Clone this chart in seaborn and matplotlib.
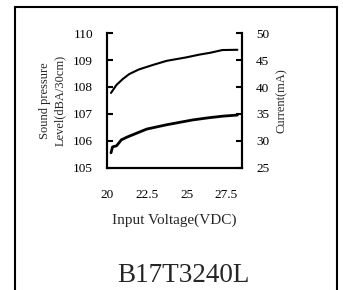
import matplotlib
matplotlib.use("Agg")
import matplotlib.pyplot as plt
import seaborn as sns
from matplotlib.patches import Rectangle

# Data
volt_spl = [20.25, 20.6, 21.0, 21.4, 22.0, 22.9, 23.75, 25.0, 25.8, 26.5, 27.25, 28.2]
spl = [107.78, 108.08, 108.3, 108.48, 108.65, 108.82, 108.97, 109.1, 109.2, 109.27, 109.37, 109.38]
volt_cur = [20.25, 20.35, 20.6, 20.9, 21.25, 22.5, 23.75, 25.4, 26.4, 27.3, 28.2]
current = [27.8, 28.9, 29.1, 30.2, 30.7, 32.2, 33.0, 33.9, 34.3, 34.6, 34.8]
x_ticks = [20, 22.5, 25, 27.5]
x_labels = ['20', '22.5', '25', '27.5']
spl_ticks = [105, 106, 107, 108, 109, 110]
cur_ticks = [25, 30, 35, 40, 45, 50]

sns.set_style("white")
plt.rcParams['font.family'] = ['Liberation Serif', 'DejaVu Serif']

fig = plt.figure(figsize=(3.43, 2.90), dpi=100)
ax = fig.add_axes([0.312, 0.421, 0.394, 0.465])
ax2 = ax.twinx()

sns.lineplot(x=volt_spl, y=spl, ax=ax, color='black', linewidth=1.5, estimator=None)
sns.lineplot(x=volt_cur, y=current, ax=ax2, color='black', linewidth=2, estimator=None)

ax.set_xlim(20, 28.5)
ax.set_ylim(105, 110)
ax2.set_ylim(25, 50)
ax.set_xticks(x_ticks)
ax.set_xticklabels(x_labels)
ax.set_yticks(spl_ticks)
ax2.set_yticks(cur_ticks)

for a in (ax, ax2):
    a.spines['top'].set_visible(False)
    for s in ('left', 'right', 'bottom'):
        a.spines[s].set_linewidth(1.5)
        a.spines[s].set_color('black')
    a.tick_params(direction='in', length=4, width=1.5, labelsize=9.5, colors='black', pad=10)
ax.tick_params(axis='x', pad=15)

ax.set_xlabel('Input Voltage(VDC)', fontsize=11, labelpad=9)
ax.set_ylabel('Sound pressure\nLevel(dBA/30cm)', fontsize=9, labelpad=5, linespacing=1.3)
ax2.set_ylabel('Current(mA)', fontsize=9, labelpad=5)

fig.text(0.535, 0.05, 'B17T3240L', fontsize=19.5, ha='center', va='center')
fig.patches.append(Rectangle((0.044, -0.05), 0.938, 1.026, transform=fig.transFigure,
                             fill=False, edgecolor='black', linewidth=1.5))

fig.savefig('out.png', dpi=100)
